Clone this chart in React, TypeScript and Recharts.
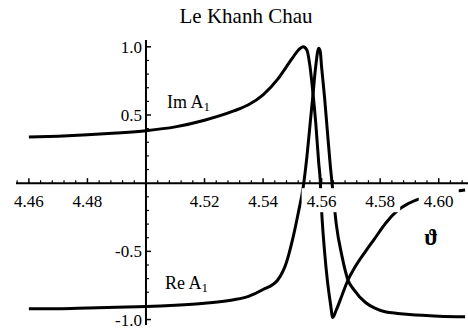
import React from "react";
import { LineChart, Line, XAxis, YAxis, ReferenceLine, ReferenceDot } from "recharts";

const thetaValues = [
  4.46, 4.47, 4.48, 4.49, 4.5, 4.51, 4.52, 4.53, 4.535, 4.54, 4.545, 4.548, 4.55, 4.552,
  4.5537, 4.555, 4.556, 4.557, 4.558, 4.559, 4.5595, 4.56, 4.561, 4.562, 4.563, 4.5638,
  4.565, 4.567, 4.569, 4.571, 4.575, 4.578, 4.582, 4.586, 4.59, 4.6, 4.609,
];
const imValues = [
  0.338, 0.345, 0.355, 0.368, 0.385, 0.413, 0.462, 0.53, 0.575, 0.648, 0.763, 0.855, 0.917, 0.975,
  1.0, 0.975, 0.86, 0.67, 0.44, 0.15, 0.03, -0.2, -0.5, -0.72, -0.88, -0.985,
  -0.93, -0.82, -0.71, -0.63, -0.5, -0.41, -0.29, -0.2, -0.145, -0.08, -0.05,
];
const reValues = [
  -0.92, -0.92, -0.915, -0.91, -0.905, -0.895, -0.88, -0.855, -0.83, -0.78, -0.71, -0.58, -0.42, -0.22,
  -0.03, 0.2, 0.42, 0.64, 0.86, 0.99, 0.97, 0.85, 0.63, 0.37, 0.12, -0.05,
  -0.3, -0.54, -0.71, -0.78, -0.875, -0.915, -0.945, -0.955, -0.963, -0.975, -0.98,
];

const xTicks = [4.46, 4.48, 4.52, 4.54, 4.56, 4.58, 4.6];
const xTickLabels = ["4.46", "4.48", "4.52", "4.54", "4.56", "4.58", "4.60"];
const xMinorTicks = [
  4.456, 4.464, 4.468, 4.472, 4.476, 4.484, 4.488, 4.492, 4.496, 4.504, 4.508, 4.512, 4.516,
  4.524, 4.528, 4.532, 4.536, 4.544, 4.548, 4.552, 4.556, 4.564, 4.568, 4.572, 4.576, 4.584,
  4.588, 4.592, 4.596, 4.604, 4.608,
];
const yTicks = [1.0, 0.5, -0.5, -1.0];
const yTickLabels = ["1.0", "0.5", "-0.5", "-1.0"];
const yMinorTicks = [0.9, 0.8, 0.7, 0.6, 0.4, 0.3, 0.2, 0.1, -0.1, -0.2, -0.3, -0.4, -0.6, -0.7, -0.8, -0.9];

const data = thetaValues.map((t, i) => ({ theta: t, im: imValues[i], re: reValues[i] }));

const FONT = '"Liberation Serif", "DejaVu Serif", "Times New Roman", serif';
const X_DOMAIN: [number, number] = [4.4556, 4.61];
const Y_DOMAIN: [number, number] = [-1.04, 1.05];

export default function App() {
  return (
    <div style={{ position: "absolute", left: 0, top: 0, width: 468, height: 332, background: "#fff" }}>
      <svg width={468} height={40} style={{ position: "absolute", left: 0, top: 0 }}>
        <text x={246} y={23} textAnchor="middle" fontSize={21} fontFamily={FONT} fill="#000">
          Le Khanh Chau
        </text>
      </svg>
      <div style={{ position: "absolute", left: 0, top: 0 }}>
        <LineChart width={468} height={332} data={data} margin={{ top: 40, right: 0, bottom: 7, left: 16 }}>
          <XAxis dataKey="theta" type="number" domain={X_DOMAIN} allowDataOverflow hide />
          <YAxis type="number" domain={Y_DOMAIN} allowDataOverflow hide />
          <ReferenceLine y={0} stroke="#000" strokeWidth={2} />
          <ReferenceLine x={4.5} stroke="#000" strokeWidth={2} />
          {xMinorTicks.map((v) => (
            <ReferenceLine key={"xm" + v} segment={[{ x: v, y: 0 }, { x: v, y: 0.022 }]} stroke="#000" strokeWidth={1.2} />
          ))}
          {xTicks.map((v) => (
            <ReferenceLine key={"xM" + v} segment={[{ x: v, y: 0 }, { x: v, y: 0.037 }]} stroke="#000" strokeWidth={1.5} />
          ))}
          {yMinorTicks.map((v) => (
            <ReferenceLine key={"ym" + v} segment={[{ x: 4.5, y: v }, { x: 4.501, y: v }]} stroke="#000" strokeWidth={1.2} />
          ))}
          {yTicks.map((v) => (
            <ReferenceLine key={"yM" + v} segment={[{ x: 4.5, y: v }, { x: 4.5017, y: v }]} stroke="#000" strokeWidth={1.5} />
          ))}
          <Line type="monotone" dataKey="im" stroke="#000" strokeWidth={3} dot={false} isAnimationActive={false} />
          <Line type="monotone" dataKey="re" stroke="#000" strokeWidth={3} dot={false} isAnimationActive={false} />
          {xTicks.map((v, i) => (
            <ReferenceDot
              key={"xl" + v}
              x={v}
              y={0}
              r={0}
              shape={(p: any) => (
                <g>
                  <rect x={p.cx - 20} y={p.cy + 5} width={40} height={24} fill="#fff" />
                  <text x={p.cx} y={p.cy + 24} textAnchor="middle" fontSize={17} fontFamily={FONT} fill="#000">
                    {xTickLabels[i]}
                  </text>
                </g>
              )}
            />
          ))}
          {yTicks.map((v, i) => (
            <ReferenceDot
              key={"yl" + v}
              x={4.5}
              y={v}
              r={0}
              shape={(p: any) => (
                <text x={p.cx - 4} y={p.cy + 6} textAnchor="end" fontSize={17} fontFamily={FONT} fill="#000">
                  {yTickLabels[i]}
                </text>
              )}
            />
          ))}
          <ReferenceDot
            x={4.5072}
            y={0.553}
            r={0}
            shape={(p: any) => (
              <text x={p.cx} y={p.cy} fontSize={18} fontFamily={FONT} fill="#000">
                Im A<tspan fontSize={13} dy={3}>1</tspan>
              </text>
            )}
          />
          <ReferenceDot
            x={4.5065}
            y={-0.773}
            r={0}
            shape={(p: any) => (
              <text x={p.cx} y={p.cy} fontSize={18} fontFamily={FONT} fill="#000">
                Re A<tspan fontSize={13} dy={3}>1</tspan>
              </text>
            )}
          />
          <ReferenceDot
            x={4.5974}
            y={-0.45}
            r={0}
            shape={(p: any) => (
              <text x={p.cx} y={p.cy} textAnchor="middle" fontSize={23} fontWeight="bold" fontFamily={FONT} fill="#000">
                ϑ
              </text>
            )}
          />
        </LineChart>
      </div>
    </div>
  );
}
